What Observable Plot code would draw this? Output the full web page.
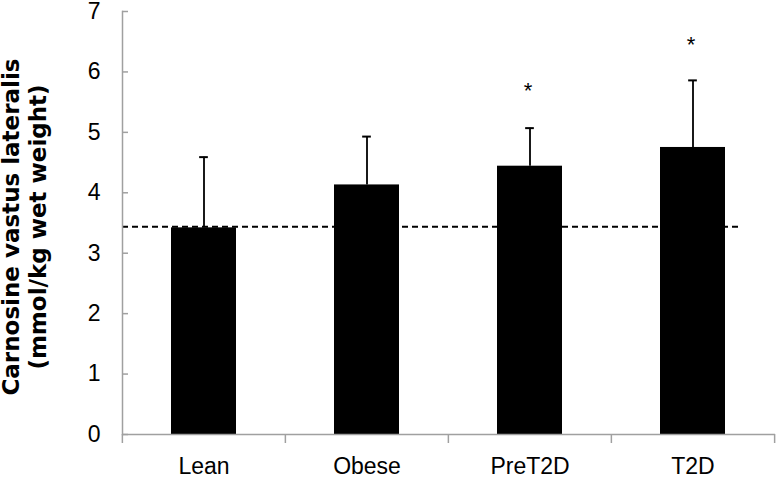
<!DOCTYPE html>
<html>
<head>
<meta charset="utf-8">
<script src="https://cdn.jsdelivr.net/npm/d3@7"></script>
<script src="https://cdn.jsdelivr.net/npm/@observablehq/plot@0.6"></script>
<style>
  html, body { margin: 0; padding: 0; background: #fff; }
</style>
</head>
<body>
<div id="chart"></div>
<script>
const categories = ["Lean", "Obese", "PreT2D", "T2D"];
const means = [3.42, 4.13, 4.44, 4.75];
const sds = [1.17, 0.80, 0.63, 1.11];
const referenceLine = 3.44;
const starCategories = ["PreT2D", "T2D"];
const starValues = [5.73, 6.50];
const yTicks = [0, 1, 2, 3, 4, 5, 6, 7];
const yLabel = "Carnosine vastus lateralis\n(mmol/kg wet weight)";

const data = categories.map((c, i) => ({cat: c, mean: means[i], upper: means[i] + sds[i]}));
const stars = starCategories.map((c, i) => ({cat: c, y: starValues[i]}));

const W = 776, H = 477, ML = 122, MR = 1, MT = 11, MB = 43;
const padIn = 0.6, padOut = 0.3;
const step = (W - ML - MR) / (categories.length - padIn + 2 * padOut);
const bw = step * (1 - padIn);
const axisGray = "#a0a0a0";
const font = "Liberation Sans, Arial, sans-serif";

const chart = Plot.plot({
  width: W,
  height: H,
  marginLeft: ML,
  marginRight: MR,
  marginTop: MT,
  marginBottom: MB,
  style: {fontFamily: font, fontSize: "23px", color: "#000", background: "#fff"},
  x: {domain: categories, paddingInner: padIn, paddingOuter: padOut, label: null},
  y: {domain: [0, 7], label: null},
  marks: [
    Plot.barY(data, {x: "cat", y: "mean", fill: "#000"}),
    Plot.ruleY([referenceLine], {stroke: "#000", strokeWidth: 2, strokeDasharray: "6,4", insetRight: 34}),
    Plot.ruleX(data, {x: "cat", y1: "mean", y2: "upper", stroke: "#000", strokeWidth: 1.8}),
    Plot.tickY(data, {x: "cat", y: "upper", stroke: "#000", strokeWidth: 2, inset: (bw - 9) / 2}),
    Plot.text(stars, {x: "cat", y: "y", text: () => "*", fontSize: 22, dy: 3, dx: -2, fill: "#000"}),
    // axes
    Plot.frame({anchor: "left", stroke: axisGray, strokeWidth: 1.5}),
    Plot.ruleY([0], {stroke: axisGray, strokeWidth: 1.5}),
    // category boundary ticks: left edge of each band, and right edge of the last band
    Plot.ruleX(categories, {x: d => d, y1: 0, y2: 0, insetBottom: -9, dx: -step / 2, stroke: axisGray, strokeWidth: 1.5}),
    Plot.ruleX(categories.slice(-1), {x: d => d, y1: 0, y2: 0, insetBottom: -9, dx: step / 2, stroke: axisGray, strokeWidth: 1.5}),
    Plot.axisY(yTicks, {anchor: "left", tickSize: -6, tickPadding: 28, tickFormat: d => String(d), stroke: axisGray, strokeWidth: 1.5, fill: "#000", fontSize: 23, label: null}),
    Plot.axisX({anchor: "bottom", tickSize: 0, tickPadding: 23, fill: "#000", fontSize: 23, label: null}),
    Plot.text([yLabel], {text: d => d, frameAnchor: "left", rotate: -90, dx: -98.9, dy: 4,
      fontFamily: "DejaVu Sans, sans-serif", fontWeight: "bold", fontSize: 23, lineHeight: 1.17,
      lineAnchor: "middle", textAnchor: "middle", fill: "#000"})
  ]
});
document.getElementById("chart").appendChild(chart);
</script>
</body>
</html>
